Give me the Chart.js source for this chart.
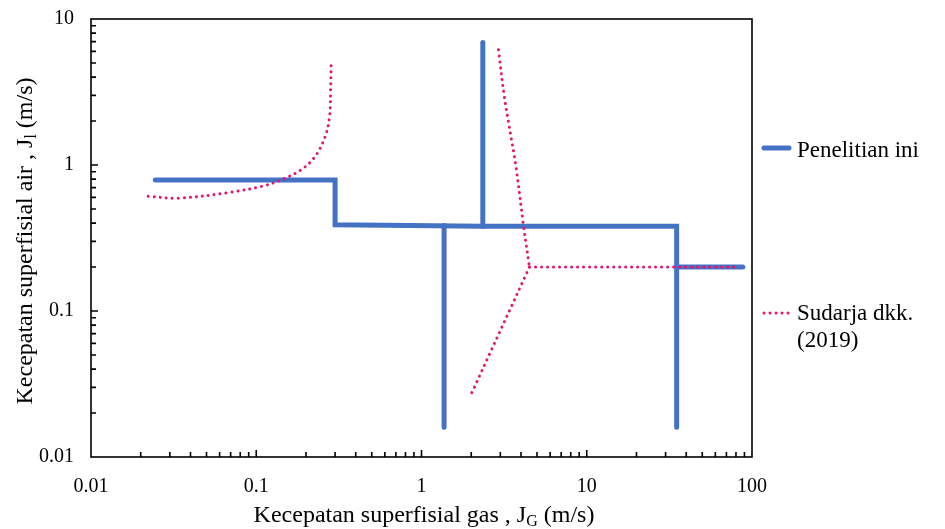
<!DOCTYPE html>
<html>
<head>
<meta charset="utf-8">
<script src="https://cdn.jsdelivr.net/npm/chart.js@4.4.1/dist/chart.umd.min.js"></script>
<style>
  html, body { margin: 0; padding: 0; background: #fff; }
  #wrap { width: 945px; height: 529px; position: relative; }
</style>
</head>
<body>
<div id="wrap"><canvas id="myChart"></canvas></div>
<script>
// Penelitian ini (solid blue), null = break between line pieces
const penelitianX = [0.0245, 0.3, 0.3, 2.35, 35, 35, null, 2.35, 2.35, null, 1.37, 1.37, null, 35, 88];
const penelitianY = [0.79, 0.79, 0.39, 0.38, 0.38, 0.016, null, 0.38, 6.9, null, 0.385, 0.016, null, 0.2, 0.2];

// Sudarja dkk. (2019) (pink dotted)
const sudarjaX = [0.0222, 0.034, 0.07, 0.111, 0.145, 0.19, 0.229, 0.262, 0.278, 0.282, 0.284, null,
                  2.92, 3.19, 3.72, 4.14, 4.5, null, 4.5, 80, null, 4.5, 2.0];
const sudarjaY = [0.61, 0.593, 0.651, 0.72, 0.80, 0.94, 1.16, 1.58, 2.16, 3.3, 5.0, null,
                  6.15, 2.81, 0.99, 0.386, 0.2, null, 0.2, 0.2, null, 0.2, 0.027];

const xTicks = [0.01, 0.1, 1, 10, 100];
const yTicks = [0.01, 0.1, 1, 10];

const BLUE = '#4472C4';
const PINK = '#E8136A';
const SERIF = "'Liberation Serif', 'Times New Roman', serif";

function pieces(xs, ys) {
  const out = [];
  let cur = [];
  xs.forEach((x, i) => {
    if (x === null) { out.push(cur); cur = []; }
    else cur.push({ x: x, y: ys[i] });
  });
  out.push(cur);
  return out;
}

const datasets = [];
pieces(penelitianX, penelitianY).forEach(p => datasets.push({
  label: 'Penelitian ini',
  data: p,
  borderColor: BLUE,
  borderWidth: 5,
  borderCapStyle: 'round',
  borderJoinStyle: 'miter',
  pointRadius: 0,
  tension: 0,
  order: 2
}));
pieces(sudarjaX, sudarjaY).forEach(p => datasets.push({
  label: 'Sudarja dkk. (2019)',
  data: p,
  borderColor: PINK,
  borderWidth: 3,
  borderDash: [0.01, 6],
  borderCapStyle: 'round',
  pointRadius: 0,
  tension: 0.35,
  order: 1
}));

// draw text made of pieces (for subscripts)
function drawParts(ctx, parts, cx, baseY) {
  let total = 0;
  parts.forEach(p => { ctx.font = p.size + 'px ' + SERIF; total += ctx.measureText(p.t).width; });
  let x = cx - total / 2;
  parts.forEach(p => {
    ctx.font = p.size + 'px ' + SERIF;
    ctx.fillText(p.t, x, baseY + (p.dy || 0));
    x += ctx.measureText(p.t).width;
  });
}

const decor = {
  id: 'decor',
  afterDraw(chart) {
    const ctx = chart.ctx;
    const a = chart.chartArea;
    const xs = chart.scales.x, ys = chart.scales.y;
    ctx.save();

    // box
    ctx.strokeStyle = '#000';
    ctx.lineWidth = 1.6;
    ctx.strokeRect(a.left, a.top, a.right - a.left, a.bottom - a.top);

    // inner tick marks (bottom and left only)
    ctx.beginPath();
    for (let e = -2; e <= 1; e++) {
      for (let k = 1; k <= 9; k++) {
        const v = k * Math.pow(10, e);
        const len = k === 1 ? 7 : 5;
        const px = xs.getPixelForValue(v);
        if (k > 1 || e > -2) { ctx.moveTo(px, a.bottom); ctx.lineTo(px, a.bottom - len); }
        if (e <= 0) {
          const py = ys.getPixelForValue(v);
          if (k > 1 || e > -2) { ctx.moveTo(a.left, py); ctx.lineTo(a.left + len, py); }
        }
      }
    }
    ctx.stroke();

    // axis titles
    ctx.fillStyle = '#000';
    ctx.textBaseline = 'alphabetic';
    ctx.textAlign = 'left';
    drawParts(ctx, [
      { t: 'Kecepatan superfisial gas , J', size: 24 },
      { t: 'G', size: 16, dy: 4 },
      { t: ' (m/s)', size: 24 }
    ], 424, 522);

    ctx.save();
    ctx.translate(32, 241);
    ctx.rotate(-Math.PI / 2);
    drawParts(ctx, [
      { t: 'Kecepatan superfisial air , J', size: 24 },
      { t: 'l', size: 16, dy: 4 },
      { t: ' (m/s)', size: 24 }
    ], 0, 0);
    ctx.restore();

    // legend
    ctx.lineCap = 'round';
    ctx.strokeStyle = BLUE;
    ctx.lineWidth = 5;
    ctx.beginPath();
    ctx.moveTo(764, 148);
    ctx.lineTo(789, 148);
    ctx.stroke();

    ctx.strokeStyle = PINK;
    ctx.lineWidth = 3;
    ctx.setLineDash([0.01, 6]);
    ctx.beginPath();
    ctx.moveTo(764, 313);
    ctx.lineTo(789, 313);
    ctx.stroke();
    ctx.setLineDash([]);

    ctx.font = '23px ' + SERIF;
    ctx.fillText('Penelitian ini', 797, 157);
    ctx.fillText('Sudarja dkk.', 797, 320);
    ctx.fillText('(2019)', 797, 347);
    ctx.restore();
  }
};

const ctx = document.getElementById('myChart').getContext('2d');
new Chart(ctx, {
  type: 'line',
  data: { datasets: datasets },
  options: {
    responsive: true,
    maintainAspectRatio: false,
    animation: false,
    layout: { padding: { top: 19, right: 193, left: 0, bottom: 0 } },
    plugins: {
      legend: { display: false },
      tooltip: { enabled: false }
    },
    scales: {
      x: {
        type: 'logarithmic',
        min: 0.01,
        max: 100,
        grid: { display: false, drawTicks: false },
        border: { display: false },
        ticks: {
          color: '#000',
          font: { family: SERIF, size: 20 },
          padding: 18,
          autoSkip: false,
          maxRotation: 0,
          callback: v => String(v)
        },
        afterBuildTicks: s => { s.ticks = xTicks.map(v => ({ value: v })); },
        afterFit: s => { s.height = 72; }
      },
      y: {
        type: 'logarithmic',
        min: 0.01,
        max: 10,
        grid: { display: false, drawTicks: false },
        border: { display: false },
        ticks: {
          color: '#000',
          font: { family: SERIF, size: 20 },
          padding: 17,
          autoSkip: false,
          callback: v => String(v)
        },
        afterBuildTicks: s => { s.ticks = yTicks.map(v => ({ value: v })); },
        afterFit: s => { s.width = 91; s.paddingTop = 0; s.paddingBottom = 0; }
      }
    }
  },
  plugins: [decor]
});
</script>
</body>
</html>
